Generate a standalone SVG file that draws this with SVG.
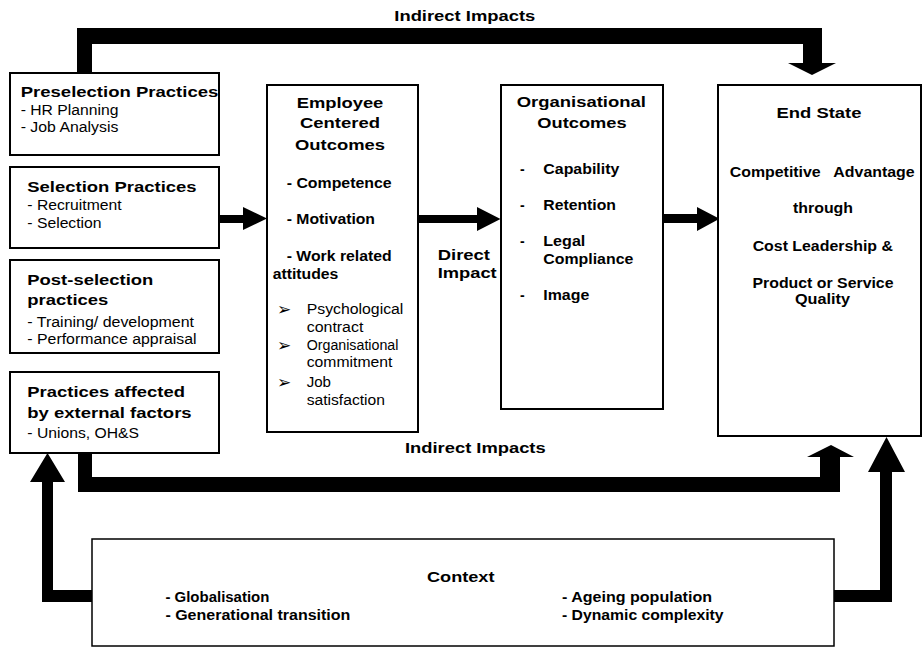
<svg xmlns="http://www.w3.org/2000/svg" width="923" height="647" viewBox="0 0 923 647">
<style>
text{font-family:"Liberation Sans",Arial,Helvetica,sans-serif;fill:#000}
.b{font-weight:bold;font-size:15px}
.bs{font-weight:bold;font-size:14px}
.r{font-size:14px}
.m{text-anchor:middle}
.bul{font-family:"DejaVu Sans",sans-serif;font-size:17px}
.box{fill:#fff;stroke:#000;stroke-width:2}
.arr{fill:#000;stroke:none}
</style>
<rect width="923" height="647" fill="#fff"/>
<g id="connectors">
  <polygon class="arr" points="77,28 822,28 822,63 836,63 812,75 788,63 803,63 803,44 92,44 92,73 77,73"/>
  <polygon class="arr" points="78,453 92,453 92,477 820,477 820,457 807,457 831,445 854,457 840,457 840,492 78,492"/>
  <polygon class="arr" points="219,215 243,215 243,207 267,218.5 243,230 243,223 219,223"/>
  <polygon class="arr" points="418,215 477,215 477,207 500.5,219 477,231 477,223 418,223"/>
  <polygon class="arr" points="663,214 697,214 697,207 719.5,218.7 697,231 697,223 663,223"/>
  <polygon class="arr" points="30,482 47.5,453 65,482 53,482 53,590 92,590 92,602 42,602 42,482"/>
  <polygon class="arr" points="833,590 880,590 880,472 868,472 886.5,437 905,472 892,472 892,602 833,602"/>
  <text class="b" x="394.3" y="21" textLength="141" lengthAdjust="spacingAndGlyphs">Indirect Impacts</text>
  <text class="b" x="405" y="452.5" textLength="140.7" lengthAdjust="spacingAndGlyphs">Indirect Impacts</text>
  <text class="b" x="437.7" y="260.3" textLength="52.3" lengthAdjust="spacingAndGlyphs">Direct</text>
  <text class="b" x="437.7" y="278.3" textLength="59" lengthAdjust="spacingAndGlyphs">Impact</text>
</g>
<g id="preselection">
  <rect class="box" x="10" y="73" width="209" height="82"/>
  <text class="b" x="20.7" y="96.5" textLength="197.6" lengthAdjust="spacingAndGlyphs">Preselection Practices</text>
  <text class="r" x="20.7" y="115" textLength="97.7" lengthAdjust="spacingAndGlyphs">- HR Planning</text>
  <text class="r" x="20.7" y="132" textLength="97.7" lengthAdjust="spacingAndGlyphs">- Job Analysis</text>
</g>
<g id="selection">
  <rect class="box" x="10" y="167" width="209" height="81"/>
  <text class="b" x="27.3" y="191.5" textLength="169.3" lengthAdjust="spacingAndGlyphs">Selection Practices</text>
  <text class="r" x="27.3" y="210" textLength="94.3" lengthAdjust="spacingAndGlyphs">- Recruitment</text>
  <text class="r" x="27.3" y="228" textLength="74.3" lengthAdjust="spacingAndGlyphs">- Selection</text>
</g>
<g id="postselection">
  <rect class="box" x="10" y="260" width="209" height="93"/>
  <text class="b" x="27.3" y="284.5" textLength="126" lengthAdjust="spacingAndGlyphs">Post-selection</text>
  <text class="b" x="27.3" y="305" textLength="81" lengthAdjust="spacingAndGlyphs">practices</text>
  <text class="r" x="27.3" y="326.7" textLength="166.7" lengthAdjust="spacingAndGlyphs">- Training/ development</text>
  <text class="r" x="27.3" y="344.3" textLength="169.3" lengthAdjust="spacingAndGlyphs">- Performance appraisal</text>
</g>
<g id="external">
  <rect class="box" x="10" y="372" width="209" height="81"/>
  <text class="b" x="27.3" y="396.7" textLength="157.7" lengthAdjust="spacingAndGlyphs">Practices affected</text>
  <text class="b" x="27.3" y="417.7" textLength="164.3" lengthAdjust="spacingAndGlyphs">by external factors</text>
  <text class="r" x="27.3" y="438.3" textLength="111.7" lengthAdjust="spacingAndGlyphs">- Unions, OH&amp;S</text>
</g>
<g id="employee">
  <rect class="box" x="267" y="85" width="151" height="347"/>
  <text class="b m" x="340" y="108" textLength="86.7" lengthAdjust="spacingAndGlyphs">Employee</text>
  <text class="b m" x="340" y="128" textLength="80" lengthAdjust="spacingAndGlyphs">Centered</text>
  <text class="b m" x="340" y="150" textLength="90" lengthAdjust="spacingAndGlyphs">Outcomes</text>
  <text class="bs" x="286.7" y="188" textLength="105" lengthAdjust="spacingAndGlyphs">- Competence</text>
  <text class="bs" x="286.7" y="224.3" textLength="88.3" lengthAdjust="spacingAndGlyphs">- Motivation</text>
  <text class="bs" x="286.7" y="261" textLength="105" lengthAdjust="spacingAndGlyphs">- Work related</text>
  <text class="bs" x="272.7" y="278.5" textLength="65.7" lengthAdjust="spacingAndGlyphs">attitudes</text>
  <text class="bul" x="277" y="315">➢</text>
  <text class="r" x="306.7" y="314" textLength="96.7" lengthAdjust="spacingAndGlyphs">Psychological</text>
  <text class="r" x="306.7" y="332" textLength="56.7" lengthAdjust="spacingAndGlyphs">contract</text>
  <text class="bul" x="277" y="350.5">➢</text>
  <text class="r" x="306.7" y="349.5" textLength="91.7" lengthAdjust="spacingAndGlyphs">Organisational</text>
  <text class="r" x="306.7" y="367" textLength="85.7" lengthAdjust="spacingAndGlyphs">commitment</text>
  <text class="bul" x="277" y="388">➢</text>
  <text class="r" x="306.7" y="387" textLength="24.3" lengthAdjust="spacingAndGlyphs">Job</text>
  <text class="r" x="306.7" y="404.5" textLength="78.3" lengthAdjust="spacingAndGlyphs">satisfaction</text>
</g>
<g id="organisational">
  <rect class="box" x="501" y="85" width="162" height="324"/>
  <text class="b m" x="581.3" y="106.5" textLength="129.3" lengthAdjust="spacingAndGlyphs">Organisational</text>
  <text class="b m" x="582" y="128" textLength="89.3" lengthAdjust="spacingAndGlyphs">Outcomes</text>
  <text class="bs" x="520" y="173.5">-</text>
  <text class="bs" x="543.3" y="173.5" textLength="76" lengthAdjust="spacingAndGlyphs">Capability</text>
  <text class="bs" x="520" y="210">-</text>
  <text class="bs" x="543.3" y="210" textLength="72.7" lengthAdjust="spacingAndGlyphs">Retention</text>
  <text class="bs" x="520" y="245.5">-</text>
  <text class="bs" x="543.3" y="245.5" textLength="42" lengthAdjust="spacingAndGlyphs">Legal</text>
  <text class="bs" x="543.3" y="263.5" textLength="90" lengthAdjust="spacingAndGlyphs">Compliance</text>
  <text class="bs" x="520" y="300">-</text>
  <text class="bs" x="543.3" y="300" textLength="46" lengthAdjust="spacingAndGlyphs">Image</text>
</g>
<g id="endstate">
  <rect class="box" x="718" y="85" width="203" height="351"/>
  <text class="b m" x="819" y="117.5" textLength="85" lengthAdjust="spacingAndGlyphs">End State</text>
  <text class="bs m" x="822.2" y="177.4" xml:space="preserve" textLength="185" lengthAdjust="spacingAndGlyphs">Competitive   Advantage</text>
  <text class="bs m" x="823" y="213" textLength="60" lengthAdjust="spacingAndGlyphs">through</text>
  <text class="bs m" x="822.8" y="250.7" textLength="140.3" lengthAdjust="spacingAndGlyphs">Cost Leadership &amp;</text>
  <text class="bs m" x="823" y="288" textLength="141" lengthAdjust="spacingAndGlyphs">Product or Service</text>
  <text class="bs m" x="822.5" y="304" textLength="55" lengthAdjust="spacingAndGlyphs">Quality</text>
</g>
<g id="context">
  <rect class="box" x="92" y="539" width="742" height="107" style="stroke-width:1.5"/>
  <text class="b" x="427" y="582" textLength="67.5" lengthAdjust="spacingAndGlyphs">Context</text>
  <text class="bs" x="165.4" y="602" textLength="104" lengthAdjust="spacingAndGlyphs">- Globalisation</text>
  <text class="bs" x="165.4" y="620" textLength="185" lengthAdjust="spacingAndGlyphs">- Generational transition</text>
  <text class="bs" x="562" y="602" textLength="150" lengthAdjust="spacingAndGlyphs">- Ageing population</text>
  <text class="bs" x="562" y="620" textLength="161.6" lengthAdjust="spacingAndGlyphs">- Dynamic complexity</text>
</g>
</svg>
